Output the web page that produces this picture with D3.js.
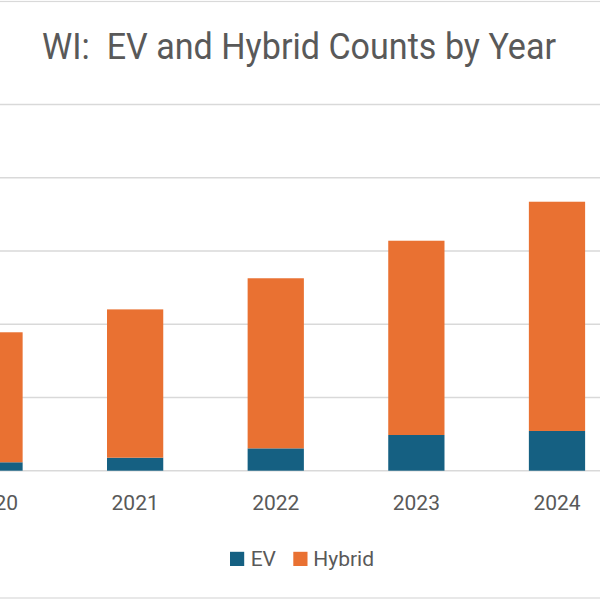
<!DOCTYPE html>
<html>
<head>
<meta charset="utf-8">
<script src="https://cdn.jsdelivr.net/npm/d3@7"></script>
<style>
  html, body { margin: 0; padding: 0; background: #fff; overflow: hidden; }
  svg { display: block; }
  text { font-family: Roboto, "Liberation Sans", sans-serif; fill: #595959; }
</style>
</head>
<body>
<svg id="chart" width="600" height="600"></svg>
<script>
const years = ["2020", "2021", "2022", "2023", "2024"];
const evCounts = [2300, 3550, 6100, 9750, 10850];
const hybridCounts = [35500, 40500, 46450, 53050, 62600];
const yTicks = [0, 20000, 40000, 60000, 80000, 100000];
const seriesNames = ["EV", "Hybrid"];
const seriesColors = ["#156082", "#E97132"];

const rows = years.map((y, i) => ({ year: y, EV: evCounts[i], Hybrid: hybridCounts[i] }));
const stacked = d3.stack().keys(seriesNames)(rows);

const svg = d3.select("#chart");

// chart area border (left/right edges are outside the visible crop)
svg.append("rect")
  .attr("x", -120).attr("y", 1.5)
  .attr("width", 840).attr("height", 596.5)
  .attr("fill", "#fff").attr("stroke", "#d9d9d9").attr("stroke-width", 1.2);

const x = d3.scaleBand()
  .domain(years)
  .range([-75.8, 627.3])
  .paddingInner(0.6)
  .paddingOuter(0.3);

const y = d3.scaleLinear()
  .domain([0, 100000])
  .range([470.7, 104.5]);

// gridlines
svg.append("g")
  .selectAll("line")
  .data(yTicks)
  .join("line")
  .attr("x1", -75.8).attr("x2", 627.3)
  .attr("y1", d => y(d)).attr("y2", d => y(d))
  .attr("stroke", "#d9d9d9")
  .attr("stroke-width", 1.4);

// bars
svg.append("g")
  .selectAll("g")
  .data(stacked)
  .join("g")
  .attr("fill", (d, i) => seriesColors[i])
  .selectAll("rect")
  .data(d => d)
  .join("rect")
  .attr("x", d => x(d.data.year))
  .attr("width", x.bandwidth())
  .attr("y", d => y(d[1]))
  .attr("height", d => y(d[0]) - y(d[1]));

// x axis labels
const xAxis = d3.axisBottom(x).tickSize(0).tickPadding(0);
const gx = svg.append("g")
  .call(xAxis);
gx.select(".domain").remove();
gx.selectAll("text")
  .attr("y", 510)
  .attr("dy", null)
  .style("font-size", "21px")
  .style("font-family", "Roboto, 'Liberation Sans', sans-serif")
  .attr("fill", "#595959");

// title
svg.append("text")
  .attr("x", 299)
  .attr("y", 59.3)
  .attr("text-anchor", "middle")
  .attr("textLength", 514)
  .attr("lengthAdjust", "spacingAndGlyphs")
  .attr("xml:space", "preserve")
  .style("white-space", "pre")
  .style("font-size", "36.5px")
  .text("WI:  EV and Hybrid Counts by Year");

// legend
const legendItems = [
  { name: seriesNames[0], color: seriesColors[0], sx: 230, tx: 250.7 },
  { name: seriesNames[1], color: seriesColors[1], sx: 293.3, tx: 313.3 }
];
const lg = svg.append("g");
lg.selectAll("rect")
  .data(legendItems)
  .join("rect")
  .attr("x", d => d.sx).attr("y", 551.8)
  .attr("width", 14.2).attr("height", 14.2)
  .attr("fill", d => d.color);
lg.selectAll("text")
  .data(legendItems)
  .join("text")
  .attr("x", d => d.tx).attr("y", 566)
  .style("font-size", "21px")
  .text(d => d.name);
</script>
</body>
</html>
